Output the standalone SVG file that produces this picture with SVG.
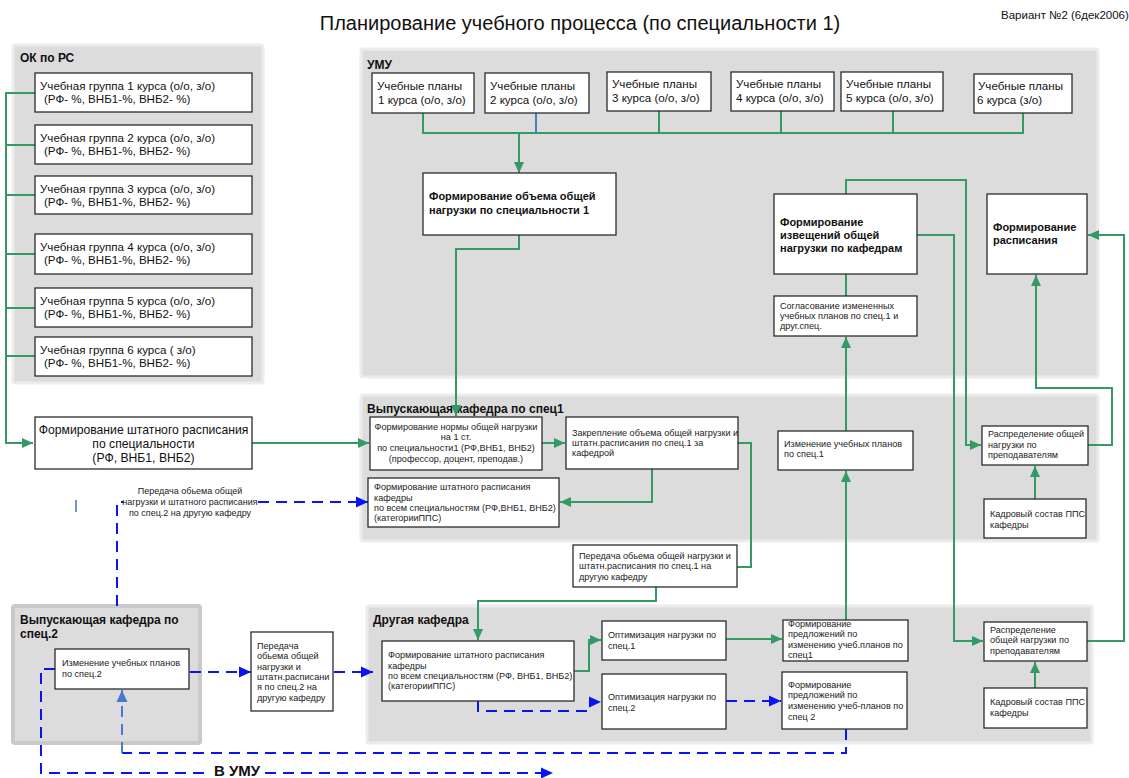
<svg xmlns="http://www.w3.org/2000/svg" width="1129" height="778" viewBox="0 0 1129 778">
  <style>
    text { font-family: "Liberation Sans", Arial, sans-serif; fill: #111; }
    .title { font-size: 20px; }
    .var { font-size: 11.5px; }
    .zl { font-size: 12px; font-weight: bold; }
    .m { font-size: 11.6px; }
    .mb { font-size: 11px; font-weight: bold; }
    .s { font-size: 9.1px; fill: #222; }
    .lbl { font-size: 9px; fill: #222; }
    .zone { fill: #dcdcdc; stroke: #ececec; stroke-width: 3; }
    .zone2 { fill: #dcdcdc; stroke: #c9c9c9; stroke-width: 4; }
    .box { fill: #fff; stroke: #2b2b2b; stroke-width: 1.3; }
    .g { fill: none; stroke: #349a64; stroke-width: 2; }
    .b { fill: none; stroke: #0a14f0; stroke-width: 2; stroke-dasharray: 11 7; }
    .lb { fill: none; stroke: #4a78d0; stroke-width: 2; stroke-dasharray: 11 7; }
  </style>
  <defs>
    <marker id="ag" markerUnits="userSpaceOnUse" markerWidth="12" markerHeight="12" refX="11" refY="6" orient="auto">
      <path d="M0,1 L11,6 L0,11 z" fill="#349a64"/>
    </marker>
    <marker id="ab" markerUnits="userSpaceOnUse" markerWidth="13" markerHeight="13" refX="12" refY="6.5" orient="auto">
      <path d="M0,1 L12,6.5 L0,12 z" fill="#0a14f0"/>
    </marker>
    <marker id="alb" markerUnits="userSpaceOnUse" markerWidth="13" markerHeight="13" refX="12" refY="6.5" orient="auto">
      <path d="M0,1 L12,6.5 L0,12 z" fill="#4a78d0"/>
    </marker>
  </defs>

  <rect width="1129" height="778" fill="#fff"/>

  <text class="title" x="580" y="30" text-anchor="middle">Планирование учебного процесса (по специальности 1)</text>
  <text class="var" x="1001" y="19">Вариант №2 (6дек2006)</text>

  <!-- swimlanes -->
  <g id="zone-ok">
    <rect class="zone" x="13" y="45" width="250" height="338" rx="2"/>
    <text class="zl" x="20" y="62">ОК по РС</text>
  </g>
  <g id="zone-umu">
    <rect class="zone" x="361" y="49" width="737" height="328" rx="2"/>
    <text class="zl" x="367" y="69">УМУ</text>
  </g>
  <g id="zone-vyp1">
    <rect class="zone" x="361" y="395" width="737" height="146" rx="2"/>
    <text class="zl" x="367" y="413">Выпускающая кафедра по спец1</text>
  </g>
  <g id="zone-other">
    <rect class="zone" x="367" y="606" width="725" height="137" rx="2"/>
    <text class="zl" x="373" y="624">Другая кафедра</text>
  </g>
  <g id="zone-vyp2">
    <rect class="zone2" x="13" y="606" width="187" height="137" rx="2"/>
    <text class="zl" x="20" y="624">Выпускающая кафедра по</text>
    <text class="zl" x="20" y="638">спец.2</text>
  </g>

  <!-- connectors -->
  <g id="connectors">
    <!-- study groups bus -->
    <path class="g" d="M35,93 H6 V443 H33" marker-end="url(#ag)"/>
    <path class="g" d="M6,145 H35 M6,195 H35 M6,254 H35 M6,308 H35 M6,356 H35"/>
    <path class="g" d="M252,443 H369" marker-end="url(#ag)"/>
    <!-- study plans bus -->
    <path class="g" d="M423,113 V133 H1023 V113 M659,111 V133 M781,111 V133 M893,111 V133"/>
    <path d="M536,113 V133" fill="none" stroke="#4a7cc0" stroke-width="2"/>
    <path class="g" d="M519,133 V173" marker-end="url(#ag)"/>
    <path class="g" d="M519,235 V249 H456 V416" marker-end="url(#ag)"/>
    <!-- department 1 -->
    <path class="g" d="M542,443 H565" marker-end="url(#ag)"/>
    <path class="g" d="M652,469 V502 H560" marker-end="url(#ag)"/>
    <path class="g" d="M738,443 H751 V567 H737"/>
    <path class="g" d="M656,587 V601 H478 V640" marker-end="url(#ag)"/>
    <!-- other department -->
    <path class="g" d="M574,671 H589 V640 H601" marker-end="url(#ag)"/>
    <path class="g" d="M726,639 H782" marker-end="url(#ag)"/>
    <path class="g" d="M846,620 V471" marker-end="url(#ag)"/>
    <path class="g" d="M846,431 V337" marker-end="url(#ag)"/>
    <path class="g" d="M846,274 V296"/>
    <path class="g" d="M846,194 V180 H966 V445 H981" marker-end="url(#ag)"/>
    <path class="g" d="M917,235 H954 V641 H983" marker-end="url(#ag)"/>
    <path class="g" d="M1035,499 V466" marker-end="url(#ag)"/>
    <path class="g" d="M1088,445 H1112 V388 H1036 V275" marker-end="url(#ag)"/>
    <path class="g" d="M1087,641 H1124 V235 H1088" marker-end="url(#ag)"/>
    <path class="g" d="M1035,688 V662" marker-end="url(#ag)"/>
    <!-- specialty 2 flows -->
    <path class="b" d="M117,606 V502 H124"/>
    <path class="b" d="M258,502 H368" marker-end="url(#ab)"/>
    <path d="M76,500 V512" stroke="#3a6fd8" stroke-width="1.5"/>
    <path class="b" d="M190,672 H251" marker-end="url(#ab)"/>
    <path class="b" d="M334,672 H373" marker-end="url(#ab)"/>
    <path class="b" d="M55,669 H41 V773 H210"/>
    <path class="b" d="M265,773 H553" marker-end="url(#ab)"/>
    <path class="b" d="M846,729 V753 H122"/>
    <path class="lb" d="M122,753 V690" marker-end="url(#alb)"/>
    <path class="b" d="M478,701 V711 H590 V702 H601" marker-end="url(#ab)"/>
    <path class="b" d="M726,701 H781" marker-end="url(#ab)"/>
    <text x="237" y="776" text-anchor="middle" font-size="15" font-weight="bold">В УМУ</text>
    <text class="lbl" x="190" y="494" text-anchor="middle">Передача обьема общей</text>
    <text class="lbl" x="190" y="505" text-anchor="middle">нагрузки и штатного расписания</text>
    <text class="lbl" x="190" y="516" text-anchor="middle">по спец.2 на другую кафедру</text>
  </g>

  <!-- study groups -->
  <g id="group1"><rect class="box" x="35" y="73" width="217" height="39"/>
    <text class="m" x="40" y="90">Учебная группа 1 курса (о/о, з/о)</text><text class="m" x="44" y="103">(РФ- %, ВНБ1-%, ВНБ2- %)</text></g>
  <g id="group2"><rect class="box" x="35" y="125" width="217" height="39"/>
    <text class="m" x="40" y="142">Учебная группа 2 курса (о/о, з/о)</text><text class="m" x="44" y="155">(РФ- %, ВНБ1-%, ВНБ2- %)</text></g>
  <g id="group3"><rect class="box" x="35" y="176" width="217" height="38"/>
    <text class="m" x="40" y="193">Учебная группа 3 курса (о/о, з/о)</text><text class="m" x="44" y="206">(РФ- %, ВНБ1-%, ВНБ2- %)</text></g>
  <g id="group4"><rect class="box" x="35" y="234" width="217" height="40"/>
    <text class="m" x="40" y="251">Учебная группа 4 курса (о/о, з/о)</text><text class="m" x="44" y="264">(РФ- %, ВНБ1-%, ВНБ2- %)</text></g>
  <g id="group5"><rect class="box" x="35" y="288" width="217" height="39"/>
    <text class="m" x="40" y="305">Учебная группа 5 курса (о/о, з/о)</text><text class="m" x="44" y="318">(РФ- %, ВНБ1-%, ВНБ2- %)</text></g>
  <g id="group6"><rect class="box" x="35" y="337" width="217" height="39"/>
    <text class="m" x="40" y="354">Учебная группа 6 курса ( з/о)</text><text class="m" x="44" y="367">(РФ- %, ВНБ1-%, ВНБ2- %)</text></g>

  <g id="staff-spec"><rect class="box" x="35" y="417" width="217" height="52"/>
    <text x="143.5" y="434" font-size="12.2" text-anchor="middle">Формирование штатного расписания</text>
    <text x="143.5" y="448" font-size="12.2" text-anchor="middle">по специальности</text>
    <text x="143.5" y="462" font-size="12.2" text-anchor="middle">(РФ, ВНБ1, ВНБ2)</text></g>

  <!-- study plans -->
  <g id="plan1"><rect class="box" x="372" y="73" width="102" height="40"/>
    <text class="m" x="377" y="90">Учебные планы</text><text class="m" x="378" y="104">1 курса (о/о, з/о)</text></g>
  <g id="plan2"><rect class="box" x="485" y="73" width="104" height="40"/>
    <text class="m" x="490" y="90">Учебные планы</text><text class="m" x="490" y="104">2 курса (о/о, з/о)</text></g>
  <g id="plan3"><rect class="box" x="607" y="72" width="104" height="39"/>
    <text class="m" x="612" y="88">Учебные планы</text><text class="m" x="612" y="102">3 курса (о/о, з/о)</text></g>
  <g id="plan4"><rect class="box" x="731" y="72" width="103" height="39"/>
    <text class="m" x="736" y="88">Учебные планы</text><text class="m" x="736" y="102">4 курса (о/о, з/о)</text></g>
  <g id="plan5"><rect class="box" x="841" y="72" width="102" height="39"/>
    <text class="m" x="846" y="88">Учебные планы</text><text class="m" x="846" y="102">5 курса (о/о, з/о)</text></g>
  <g id="plan6"><rect class="box" x="974" y="74" width="98" height="39"/>
    <text class="m" x="978" y="90">Учебные планы</text><text class="m" x="977" y="104">6 курса (з/о)</text></g>

  <g id="volume"><rect class="box" x="423" y="173" width="193" height="62"/>
    <text class="mb" x="429" y="200">Формирование объема общей</text>
    <text class="mb" x="429" y="214">нагрузки по специальности 1</text></g>
  <g id="notices"><rect class="box" x="774" y="194" width="143" height="80"/>
    <text class="mb" x="780" y="226">Формирование</text>
    <text class="mb" x="780" y="239">извещений общей</text>
    <text class="mb" x="780" y="252">нагрузки по кафедрам</text></g>
  <g id="agreement"><rect class="box" x="774" y="296" width="143" height="40"/>
    <text class="s" x="780" y="309">Согласование измененных</text>
    <text class="s" x="780" y="319">учебных планов по спец.1 и</text>
    <text class="s" x="780" y="329">друг.спец.</text></g>
  <g id="timetable"><rect class="box" x="987" y="194" width="100" height="80"/>
    <text class="mb" x="993" y="231">Формирование</text>
    <text class="mb" x="993" y="244">расписания</text></g>

  <!-- department 1 -->
  <g id="norm"><rect class="box" x="370" y="417" width="172" height="53"/>
    <text class="s" x="456" y="430" text-anchor="middle">Формирование нормы общей нагрузки</text>
    <text class="s" x="456" y="440" text-anchor="middle">на 1 ст.</text>
    <text class="s" x="456" y="451" text-anchor="middle">по специальности1 (РФ,ВНБ1, ВНБ2)</text>
    <text class="s" x="456" y="462" text-anchor="middle">(профессор, доцент, преподав.)</text></g>
  <g id="assign"><rect class="box" x="566" y="417" width="172" height="52"/>
    <text class="s" x="572" y="436">Закрепление объема общей нагрузки и</text>
    <text class="s" x="572" y="446">штатн.расписания по спец.1 за</text>
    <text class="s" x="572" y="456">кафедрой</text></g>
  <g id="staff-dep1"><rect class="box" x="368" y="478" width="191" height="49"/>
    <text class="s" x="374" y="490">Формирование штатного расписания</text>
    <text class="s" x="374" y="501">кафедры</text>
    <text class="s" x="374" y="511">по всем специальностям (РФ,ВНБ1, ВНБ2)</text>
    <text class="s" x="374" y="521">(категорииППС)</text></g>
  <g id="change1"><rect class="box" x="778" y="431" width="135" height="39"/>
    <text class="s" x="784" y="447">Изменение учебных планов</text>
    <text class="s" x="784" y="457">по спец.1</text></g>
  <g id="distrib1"><rect class="box" x="982" y="426" width="106" height="39"/>
    <text class="s" x="988" y="437">Распределение общей</text>
    <text class="s" x="988" y="448">нагрузки по</text>
    <text class="s" x="988" y="458">преподавателям</text></g>
  <g id="staff-pps1"><rect class="box" x="984" y="499" width="102" height="39"/>
    <text class="s" x="990" y="517">Кадровый состав ППС</text>
    <text class="s" x="990" y="528">кафедры</text></g>
  <g id="transfer1"><rect class="box" x="573" y="545" width="164" height="42"/>
    <text class="s" x="579" y="559">Передача обьема общей нагрузки и</text>
    <text class="s" x="579" y="569">штатн.расписания по спец.1 на</text>
    <text class="s" x="579" y="580">другую кафедру</text></g>

  <!-- other department -->
  <g id="staff-dep2"><rect class="box" x="382" y="641" width="192" height="60"/>
    <text class="s" x="388" y="658">Формирование штатного расписания</text>
    <text class="s" x="388" y="669">кафедры</text>
    <text class="s" x="388" y="679">по всем специальностям (РФ, ВНБ1, ВНБ2)</text>
    <text class="s" x="388" y="689">(категорииППС)</text></g>
  <g id="optim1"><rect class="box" x="602" y="621" width="124" height="39"/>
    <text class="s" x="608" y="638">Оптимизация нагрузки по</text>
    <text class="s" x="608" y="649">спец.1</text></g>
  <g id="optim2"><rect class="box" x="602" y="674" width="124" height="55"/>
    <text class="s" x="608" y="700">Оптимизация нагрузки по</text>
    <text class="s" x="608" y="711">спец.2</text></g>
  <g id="proposal1"><rect class="box" x="783" y="620" width="125" height="41"/>
    <text class="s" x="788" y="627">Формирование</text>
    <text class="s" x="788" y="637">предложений по</text>
    <text class="s" x="788" y="648">изменению учеб.планов по</text>
    <text class="s" x="788" y="658">спец1</text></g>
  <g id="proposal2"><rect class="box" x="782" y="672" width="125" height="57"/>
    <text class="s" x="788" y="688">Формирование</text>
    <text class="s" x="788" y="698">предложений по</text>
    <text class="s" x="788" y="709">изменению учеб-планов по</text>
    <text class="s" x="788" y="720">спец 2</text></g>
  <g id="distrib2"><rect class="box" x="984" y="622" width="103" height="39"/>
    <text class="s" x="990" y="633">Распределение</text>
    <text class="s" x="990" y="643">общей нагрузки по</text>
    <text class="s" x="990" y="654">преподавателям</text></g>
  <g id="staff-pps2"><rect class="box" x="984" y="688" width="103" height="40"/>
    <text class="s" x="990" y="705">Кадровый состав ППС</text>
    <text class="s" x="990" y="716">кафедры</text></g>

  <!-- department 2 -->
  <g id="change2"><rect class="box" x="55" y="649" width="134" height="40"/>
    <text class="s" x="62" y="666">Изменение учебных планов</text>
    <text class="s" x="62" y="677">по спец.2</text></g>
  <g id="transfer2"><rect class="box" x="251" y="632" width="82" height="79"/>
    <text class="s" x="257" y="649">Передача</text>
    <text class="s" x="257" y="659">обьема общей</text>
    <text class="s" x="257" y="670">нагрузки и</text>
    <text class="s" x="257" y="680">штатн.расписани</text>
    <text class="s" x="257" y="690">я по спец.2 на</text>
    <text class="s" x="257" y="701">другую кафедру</text></g>
</svg>
